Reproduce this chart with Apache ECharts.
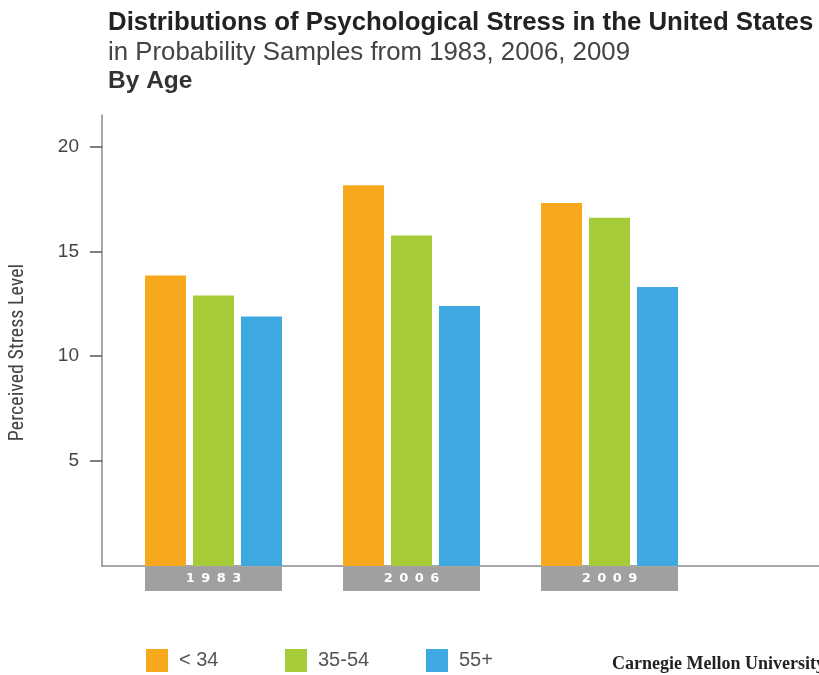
<!DOCTYPE html>
<html>
<head>
<meta charset="utf-8">
<script src="https://cdn.jsdelivr.net/npm/echarts@6/dist/echarts.min.js"></script>
<style>
  html, body { margin: 0; padding: 0; background: #fff; }
  #chart { width: 819px; height: 675px; }
</style>
</head>
<body>
<div id="chart"></div>
<script>
// survey years and age groups
const years = ['1983', '2006', '2009'];
const under34 = [13.85, 18.15, 17.3];
const age35to54 = [12.9, 15.75, 16.6];
const over55 = [11.9, 12.4, 13.3];
const yTicks = [5, 10, 15, 20];

const chart = echarts.init(document.getElementById('chart'));

const axisGray = '#8a8a8a';
const sans = '"Liberation Sans", Arial, sans-serif';
const legendText = { fontSize: 20, color: '#555', fontFamily: sans, padding: [0, 0, 0, 6] };

chart.setOption({
    animation: false,
    title: [
        {
            text: 'Distributions of Psychological Stress in the United States',
            left: 103, top: 5,
            textStyle: { fontSize: 25.8, fontWeight: 'bold', color: '#222', fontFamily: sans }
        },
        {
            text: 'in Probability Samples from 1983, 2006, 2009',
            left: 103, top: 35,
            textStyle: { fontSize: 25.8, fontWeight: 'normal', color: '#444', fontFamily: sans }
        },
        {
            text: 'By Age',
            left: 103, top: 64,
            textStyle: { fontSize: 24.5, fontWeight: 'bold', color: '#333', fontFamily: sans }
        },
        {
            text: 'Carnegie Mellon University',
            left: 607, top: 650,
            textStyle: { fontSize: 18, fontWeight: 'bold', color: '#222', fontFamily: '"Liberation Serif", serif' }
        }
    ],
    legend: [
        { data: ['< 34'], left: 146, top: 649, padding: 0, itemWidth: 22, itemHeight: 23, textStyle: legendText, icon: 'rect' },
        { data: ['35-54'], left: 285, top: 649, padding: 0, itemWidth: 22, itemHeight: 23, textStyle: legendText, icon: 'rect' },
        { data: ['55+'], left: 426, top: 649, padding: 0, itemWidth: 22, itemHeight: 23, textStyle: legendText, icon: 'rect' }
    ],
    grid: [
        { left: 101, right: 0, top: 115, bottom: 109 },
        { left: 114.5, right: 110.5, top: 115, bottom: 109 }
    ],
    xAxis: [
        {
            gridIndex: 0, type: 'value', min: 0, max: 1,
            axisLine: { show: true, lineStyle: { color: axisGray, width: 1.5 } },
            axisTick: { show: false }, axisLabel: { show: false }, splitLine: { show: false }
        },
        {
            gridIndex: 1, type: 'category', data: years,
            axisLine: { show: false }, axisTick: { show: false },
            axisLabel: {
                margin: 1,
                width: 137, height: 24, lineHeight: 24,
                align: 'center',
                backgroundColor: '#a0a0a0',
                color: '#fff', fontSize: 13, fontWeight: 'bold',
                fontFamily: '"DejaVu Sans", sans-serif',
                formatter: v => v.split('').join('\u2002')
            }
        }
    ],
    yAxis: [
        {
            gridIndex: 0, type: 'value', min: 0, max: 21.5,
            name: 'Perceived Stress Level',
            nameLocation: 'middle', nameGap: 74, nameRotate: 90,
            nameTextStyle: {
                fontSize: 20, color: '#444', padding: [0, 24, 0, 0],
                fontFamily: '"Liberation Sans Narrow", "Roboto Condensed", sans-serif'
            },
            axisLine: { show: true, lineStyle: { color: axisGray, width: 1.5 } },
            axisTick: { show: true, length: 12, lineStyle: { color: '#555', width: 1.5 }, customValues: yTicks },
            axisLabel: { margin: 23, fontSize: 19, color: '#444', fontFamily: sans, customValues: yTicks },
            splitLine: { show: false }
        },
        { gridIndex: 1, type: 'value', min: 0, max: 21.5, show: false }
    ],
    series: [
        { name: '< 34', type: 'bar', xAxisIndex: 1, yAxisIndex: 1, data: under34, barWidth: 41, barGap: '17%', itemStyle: { color: '#f8a81d' } },
        { name: '35-54', type: 'bar', xAxisIndex: 1, yAxisIndex: 1, data: age35to54, barWidth: 41, barGap: '17%', itemStyle: { color: '#a5cb39' } },
        { name: '55+', type: 'bar', xAxisIndex: 1, yAxisIndex: 1, data: over55, barWidth: 41, barGap: '17%', itemStyle: { color: '#3ea9e1' } }
    ]
});
</script>
</body>
</html>
